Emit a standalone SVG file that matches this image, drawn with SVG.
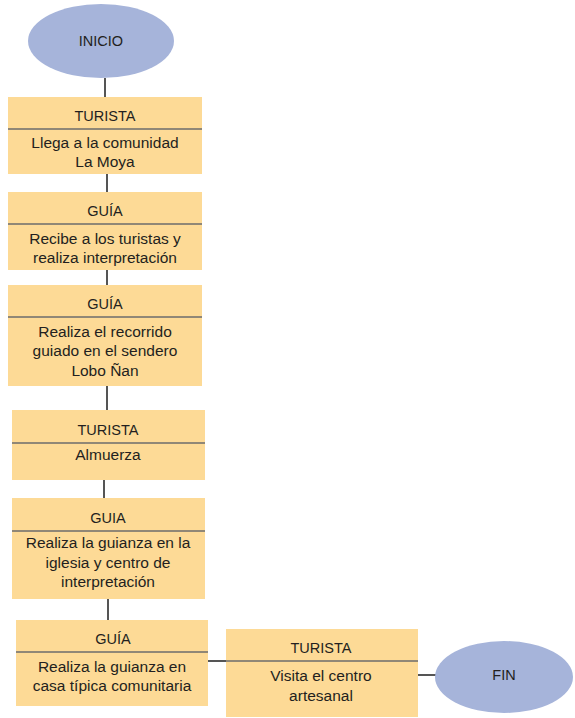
<svg xmlns="http://www.w3.org/2000/svg" width="575" height="718" viewBox="0 0 575 718">
<style>
.box{fill:#FDDA96;}
.div{stroke:#6b6b6b;stroke-width:1.6;}
.term{fill:#A6B4DA;}
.conn{stroke:#555555;stroke-width:2;fill:none;}
text{font-family:"Liberation Sans",Arial,sans-serif;fill:#231F20;text-anchor:middle;font-size:15.5px;}
.h{font-size:14.5px;}
</style>
<rect width="575" height="718" fill="#ffffff"/>
<g id="connectors">
<line class="conn" x1="105" y1="78" x2="105" y2="97"/>
<line class="conn" x1="107" y1="174" x2="107" y2="192"/>
<line class="conn" x1="107" y1="270" x2="107" y2="285"/>
<line class="conn" x1="107" y1="386" x2="107" y2="410"/>
<line class="conn" x1="104" y1="480" x2="104" y2="498"/>
<line class="conn" x1="108" y1="599" x2="108" y2="620"/>
<line class="conn" x1="208" y1="661" x2="226" y2="661"/>
<line class="conn" x1="418" y1="675" x2="436" y2="675"/>
</g>
<g id="inicio">
<ellipse class="term" cx="101" cy="41" rx="73" ry="37"/>
<text class="h" x="101" y="46">INICIO</text>
</g>
<g id="n1">
<rect class="box" x="8" y="97" width="194" height="77"/>
<line class="div" x1="8" y1="129" x2="202" y2="129"/>
<text class="h" x="105" y="121">TURISTA</text>
<text x="105" y="148">Llega a la comunidad</text>
<text x="105" y="167">La Moya</text>
</g>
<g id="n2">
<rect class="box" x="8" y="192" width="194" height="78"/>
<line class="div" x1="8" y1="224" x2="202" y2="224"/>
<text class="h" x="105" y="216">GUÍA</text>
<text x="105" y="244">Recibe a los turistas y</text>
<text x="105" y="263">realiza interpretación</text>
</g>
<g id="n3">
<rect class="box" x="8" y="285" width="194" height="101"/>
<line class="div" x1="8" y1="317" x2="202" y2="317"/>
<text class="h" x="105" y="309">GUÍA</text>
<text x="105" y="337">Realiza el recorrido</text>
<text x="105" y="356">guiado en el sendero</text>
<text x="105" y="376">Lobo Ñan</text>
</g>
<g id="n4">
<rect class="box" x="12" y="410" width="193" height="70"/>
<line class="div" x1="12" y1="443" x2="205" y2="443"/>
<text class="h" x="108" y="435">TURISTA</text>
<text x="108" y="460">Almuerza</text>
</g>
<g id="n5">
<rect class="box" x="12" y="498" width="193" height="101"/>
<line class="div" x1="12" y1="531" x2="205" y2="531"/>
<text class="h" x="108" y="523">GUIA</text>
<text x="108" y="548">Realiza la guianza en la</text>
<text x="108" y="568">iglesia y centro de</text>
<text x="108" y="587">interpretación</text>
</g>
<g id="n6">
<rect class="box" x="16" y="620" width="192" height="86"/>
<line class="div" x1="16" y1="652" x2="208" y2="652"/>
<text class="h" x="113" y="644">GUÍA</text>
<text x="112" y="672">Realiza la guianza en</text>
<text x="112" y="691">casa típica comunitaria</text>
</g>
<g id="n7">
<rect class="box" x="226" y="629" width="192" height="88"/>
<line class="div" x1="226" y1="661" x2="418" y2="661"/>
<text class="h" x="321" y="653">TURISTA</text>
<text x="321" y="681">Visita el centro</text>
<text x="321" y="701">artesanal</text>
</g>
<g id="fin">
<ellipse class="term" cx="504" cy="677" rx="69" ry="36"/>
<text class="h" x="504" y="680">FIN</text>
</g>
</svg>
